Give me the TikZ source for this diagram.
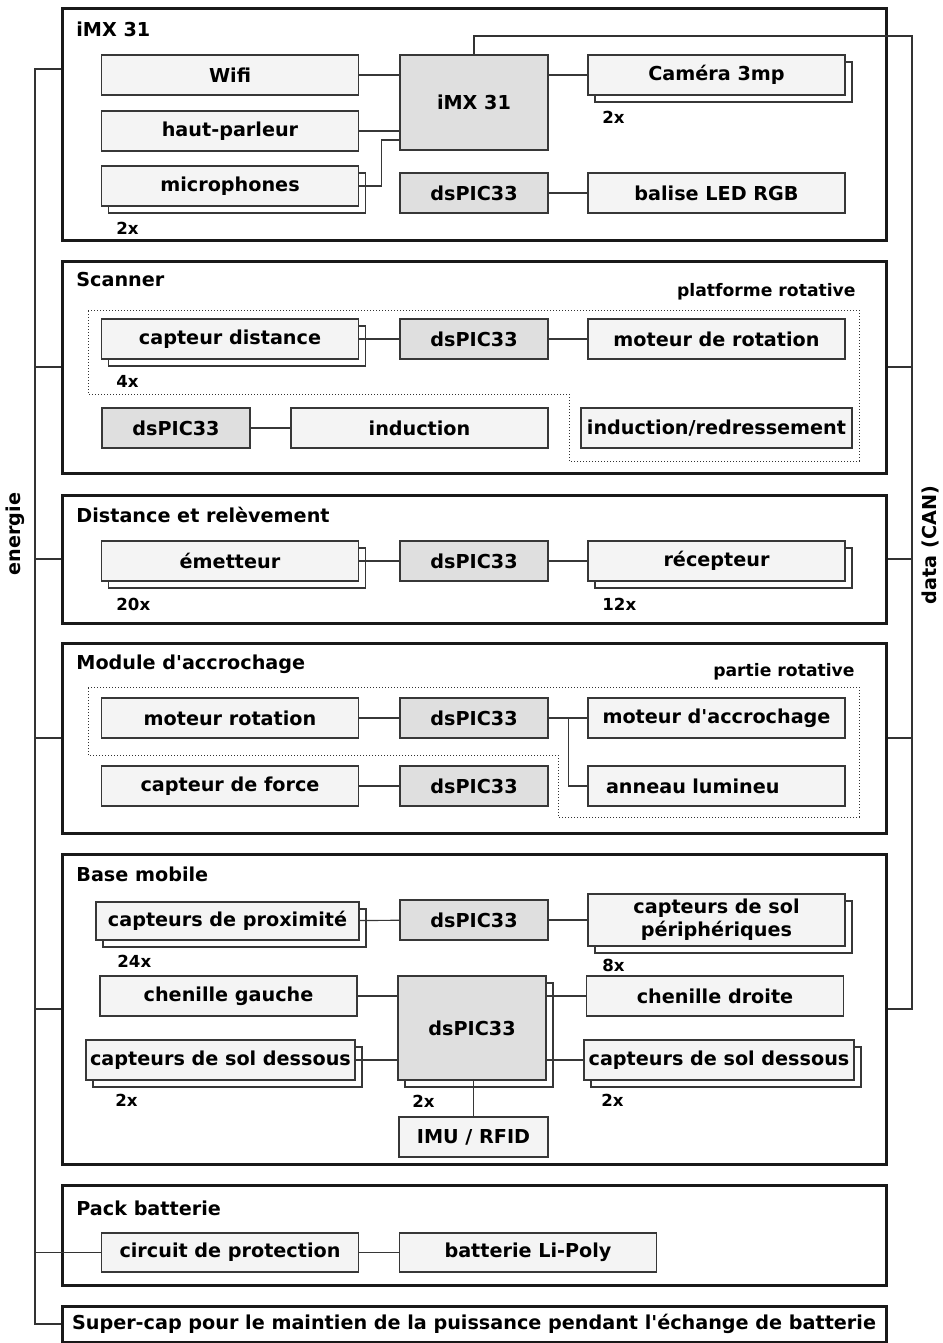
\documentclass[tikz,border=0pt]{standalone}
\usepackage{fontspec}
\setmainfont{DejaVu Sans}
\usetikzlibrary{calc,shadows}
\definecolor{blocfond}{RGB}{244,244,244}
\definecolor{pucefond}{RGB}{223,223,223}
\definecolor{trait}{RGB}{55,55,55}

\begin{document}
\fontsize{9.6}{11.5}\selectfont
\begin{tikzpicture}[x=.5pt,y=-.5pt,
 section/.style={draw=black!90,line width=1.5pt,minimum width=412pt,inner sep=0pt},
 bloc/.style={draw=trait,fill=blocfond,line width=.7pt,minimum height=20pt,inner sep=1pt,font=\bfseries},
 large/.style={bloc,minimum width=128.5pt},
 puce/.style={bloc,fill=pucefond,minimum width=74pt},
 plusieurs/.style={copy shadow={shadow xshift=3.5pt,shadow yshift=-3.5pt,fill=white,draw=trait,line width=.7pt}},
 titre/.style={anchor=west,inner sep=0pt,font=\bfseries},
 nombre/.style={anchor=west,inner sep=0pt,font=\fontsize{8.3}{10}\selectfont\bfseries},
 zonetitre/.style={anchor=east,inner sep=0pt,font=\fontsize{8.6}{10}\selectfont\bfseries},
 zone/.style={draw=black!80,densely dotted,line width=.5pt},
 lien/.style={draw=trait,line width=.6pt},
 bus/.style={draw=black!80,line width=.6pt}]
 \useasboundingbox (0,0) rectangle (942,1343);

 \node[section,minimum height=115.5pt] (imx) at (474,124.5) {};
 \node[section,minimum height=106pt] (scanner) at (474,367) {};
 \node[section,minimum height=64pt] (distance) at (474,559) {};
 \node[section,minimum height=95pt] (accroche) at (474,738) {};
 \node[section,minimum height=155pt] (base) at (474,1009) {};
 \node[section,minimum height=50pt] (batterie) at (474,1235) {};
 \node[section,minimum height=18pt,font=\bfseries] (supercap) at (474,1324)
  {Super-cap pour le maintien de la puissance pendant l\textquotesingle échange de batterie};

 \node[titre] at (76,29) {iMX 31};
 \node[titre] at (76,280) {Scanner};
 \node[titre] at (76,515) {Distance et relèvement};
 \node[titre] at (76,664) {Module d\textquotesingle accrochage};
 \node[titre] at (76,874) {Base mobile};
 \node[titre] at (76,1208) {Pack batterie};

 % iMX 31
 \node[large] (wifi) at (230,75) {Wifi};
 \node[large] (hautparleur) at (230,131) {haut-parleur};
 \node[large,plusieurs] (micro) at (230,186) {microphones};
 \node[puce,minimum height=47.5pt] (imx31) at (474,102.5) {iMX 31};
 \node[puce] (dspic1) at (474,193) {dsPIC33};
 \node[large,plusieurs] (camera) at (716.5,75) {Caméra 3mp};
 \node[large] (balise) at (716.5,193) {balise LED RGB};
 \node[nombre] at (116,228) {2x};
 \node[nombre] at (602,117) {2x};
 \draw[lien] (wifi) -- (wifi -| imx31.west);
 \draw[lien] (hautparleur) -- (hautparleur -| imx31.west);
 \draw[lien] (micro.east) -- ++(11pt,0) |- ($(imx31.west)+(0,37.5)$);
 \draw[lien] (camera -| imx31.east) -- (camera);
 \draw[lien] (dspic1) -- (balise);

 % Scanner
 \draw[zone] (88,310) -- (859,310) -- (859,461) -- (569,461) -- (569,394)
  -- (88,394) -- cycle;
 \node[zonetitre] at (856,292) {platforme rotative};
 \node[large,plusieurs] (capteur) at (230,339) {capteur distance};
 \node[puce] (dspic2) at (474,339) {dsPIC33};
 \node[large] (rotation) at (716.5,339) {moteur de rotation};
 \node[nombre] at (116,381) {4x};
 \node[puce] (dspic3) at (176,428) {dsPIC33};
 \node[large] (induction) at (419.5,428) {induction};
 \node[bloc,minimum width=135.5pt] (redressement) at (716.5,428) {induction/redressement};
 \draw[lien] (capteur) -- (dspic2);
 \draw[lien] (dspic2) -- (rotation);
 \draw[lien] (dspic3) -- (induction);

 % Distance et relevement
 \node[large,plusieurs] (emetteur) at (230,561) {émetteur};
 \node[puce] (dspic4) at (474,561) {dsPIC33};
 \node[large,plusieurs] (recepteur) at (716.5,561) {récepteur};
 \node[nombre] at (116,604) {20x};
 \node[nombre] at (602,604) {12x};
 \draw[lien] (emetteur) -- (dspic4);
 \draw[lien] (dspic4) -- (recepteur);

 % Module d'accrochage
 \draw[zone] (88,687) -- (859,687) -- (859,817) -- (558,817) -- (558,755)
  -- (88,755) -- cycle;
 \node[zonetitre] at (855,672) {partie rotative};
 \node[large] (moteurrot) at (230,718) {moteur rotation};
 \node[puce] (dspic5) at (474,718) {dsPIC33};
 \node[large] (accrochage) at (716.5,718) {moteur d\textquotesingle accrochage};
 \node[large] (force) at (230,786) {capteur de force};
 \node[puce] (dspic6) at (474,786) {dsPIC33};
 \node[large,align=left,text width=110.5pt] (anneau) at (716.5,786) {anneau lumineu};
 \draw[lien] (moteurrot) -- (dspic5);
 \draw[lien] (dspic5) -- (accrochage);
 \draw[lien] (dspic5.east) ++(10pt,0) |- (anneau.west);
 \draw[lien] (force) -- (dspic6);

 % Base mobile
 \node[bloc,plusieurs,minimum width=131.5pt,minimum height=19pt] (proximite) at (227.5,921)
  {capteurs de proximité};
 \node[puce] (dspic7) at (474,920) {dsPIC33};
 \node[large,plusieurs,minimum height=26pt,align=center] (solperiph) at (716.5,920)
  {capteurs de sol\\périphériques};
 \node[nombre] at (117,961) {24x};
 \node[nombre] at (602,965) {8x};
 \node[large] (chenilleg) at (228.5,996) {chenille gauche};
 \node[puce,plusieurs,minimum height=52pt] (dspic8) at (472,1028) {dsPIC33};
 \node[large] (chenilled) at (715,996) {chenille droite};
 \node[bloc,plusieurs,minimum width=134.5pt] (dessousg) at (220.5,1060) {capteurs de sol dessous};
 \node[bloc,plusieurs,minimum width=135pt] (dessousd) at (719,1060) {capteurs de sol dessous};
 \node[bloc,minimum width=74.5pt] (imu) at (473.5,1137) {IMU / RFID};
 \node[nombre] at (115,1100) {2x};
 \node[nombre] at (412,1101) {2x};
 \node[nombre] at (601,1100) {2x};
 \draw[lien] (proximite) -- (dspic7);
 \draw[lien] (dspic7) -- (solperiph -| dspic7.east) -- (solperiph -| solperiph.west);
 \draw[lien] (chenilleg) -- (chenilleg -| dspic8.west);
 \draw[lien] (dessousg) -- (dessousg -| dspic8.west);
 \draw[lien] (chenilled -| dspic8.east) -- (chenilled);
 \draw[lien] (dessousd -| dspic8.east) -- (dessousd);
 \draw[lien] (imu.north) -- (imu.north |- dspic8.south);

 % Pack batterie
 \node[large,minimum height=19.5pt] (protection) at (230,1252.5) {circuit de protection};
 \node[large,minimum height=19.5pt] (lipoly) at (528,1252.5) {batterie Li-Poly};
 \draw[lien] (protection) -- (lipoly);

 % energie
 \coordinate (energiehaut) at (35,69);
 \node[rotate=90,font=\bfseries] (energie) at (15,534) {energie};
 \draw[bus] (imx.west |- energiehaut) -- (energiehaut) |- (supercap.west);
 \foreach \s in {scanner,distance,accroche,base,protection}
  {\draw[bus] (\s.west) -- (\s.west -| energiehaut);}

 % data (CAN)
 \coordinate (datahaut) at (912,36);
 \node[rotate=90,font=\bfseries] (data) at (930,545) {data (CAN)};
 \draw[bus] (imx31.north) |- (datahaut) |- (base.east);
 \foreach \s in {scanner,distance,accroche}
  {\draw[bus] (\s.east) -- (\s.east -| datahaut);}
\end{tikzpicture}
\end{document}
